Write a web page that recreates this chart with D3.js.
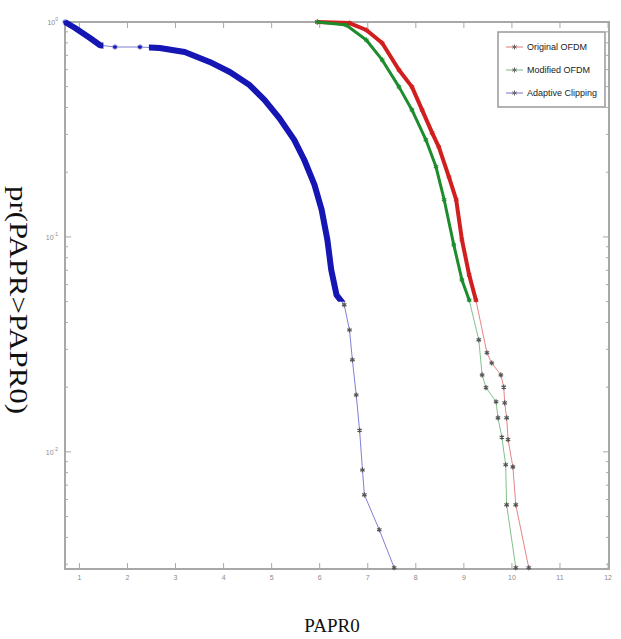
<!DOCTYPE html>
<html>
<head>
<meta charset="utf-8">
<script src="https://cdn.jsdelivr.net/npm/d3@7"></script>
<style>
  body { margin: 0; background: #fff; }
  svg { display: block; }
</style>
</head>
<body>
<div id="chart"></div>
<script>
// values
const xTickValues = [1, 2, 3, 4, 5, 6, 7, 8, 9, 10, 11, 12];
const yTickValues = [1, 0.1, 0.01];
const yTickLabels = ["0", "-1", "-2"];
const seriesNames = ["Original OFDM", "Modified OFDM", "Adaptive Clipping"];

const originalX = [5.95, 6.62, 6.97, 7.30, 7.65, 7.92, 8.13, 8.34, 8.48, 8.69, 8.84, 8.96, 9.11, 9.25, 9.48, 9.58, 9.77, 9.83, 9.85, 9.89, 9.92, 10.02, 10.08, 10.35];
const originalY = [1.0, 0.989, 0.918, 0.798, 0.598, 0.499, 0.390, 0.305, 0.262, 0.190, 0.149, 0.0969, 0.0666, 0.0509, 0.0289, 0.0259, 0.0228, 0.0200, 0.0169, 0.0144, 0.0114, 0.00851, 0.00567, 0.00289];

const modifiedX = [5.95, 6.55, 6.97, 7.30, 7.65, 7.92, 8.21, 8.42, 8.59, 8.79, 8.96, 9.11, 9.31, 9.38, 9.46, 9.67, 9.71, 9.79, 9.87, 9.89, 10.08];
const modifiedY = [1.0, 0.968, 0.825, 0.666, 0.499, 0.390, 0.283, 0.212, 0.149, 0.0918, 0.0631, 0.0509, 0.0332, 0.0228, 0.0199, 0.0171, 0.0144, 0.0117, 0.00871, 0.00567, 0.00289];

const clippingX = [0.70, 0.91, 1.22, 1.43, 1.74, 2.26, 2.67, 3.19, 3.71, 4.13, 4.54, 4.85, 5.16, 5.47, 5.68, 5.89, 6.04, 6.16, 6.24, 6.35, 6.51, 6.62, 6.68, 6.76, 6.83, 6.89, 6.93, 7.24, 7.55];
const clippingY = [1.0, 0.938, 0.843, 0.78, 0.765, 0.765, 0.757, 0.725, 0.652, 0.585, 0.509, 0.434, 0.357, 0.283, 0.228, 0.175, 0.134, 0.0969, 0.0703, 0.0537, 0.0483, 0.0369, 0.0268, 0.0184, 0.0126, 0.00824, 0.00631, 0.00434, 0.00289];

// thin (sparse) stretches of each curve, in x units
const sparseRanges = [[], [], [[1.5, 2.55]]];

const colors = ["#d11f1f", "#1c8c2c", "#1616b4"];
const thickWidths = [4, 3, 6];

const totalWidth = 621, totalHeight = 639;
const margin = {top: 22, right: 12, bottom: 70, left: 65};
const width = totalWidth - margin.left - margin.right;
const height = totalHeight - margin.top - margin.bottom;

const svg = d3.select("#chart").append("svg")
  .attr("width", totalWidth)
  .attr("height", totalHeight);

const g = svg.append("g")
  .attr("transform", `translate(${margin.left},${margin.top})`);

const x = d3.scaleLinear().domain([0.7, 12.02]).range([0, width]);
const y = d3.scaleLog().domain([Math.pow(10, -2.545), 1]).range([height, 0]);

const series = [
  {name: seriesNames[0], xs: originalX, ys: originalY},
  {name: seriesNames[1], xs: modifiedX, ys: modifiedY},
  {name: seriesNames[2], xs: clippingX, ys: clippingY}
].map((s, i) => ({
  name: s.name,
  color: colors[i],
  thick: thickWidths[i],
  gaps: sparseRanges[i],
  values: s.xs.map((v, j) => ({x: v, y: s.ys[j]}))
}));

// axis box + ticks (matlab style, ticks inside)
const axisColor = "#a8a8a8";
const minorTicks = [];
for (let e = -3; e < 0; e++) {
  for (let m = 2; m <= 9; m++) {
    const v = m * Math.pow(10, e);
    if (v >= y.domain()[0]) minorTicks.push(v);
  }
}

g.append("g")
  .attr("stroke", axisColor)
  .attr("stroke-width", 1)
  .call(g => g.selectAll(".xb").data(xTickValues).join("line")
    .attr("x1", d => x(d)).attr("x2", d => x(d))
    .attr("y1", height).attr("y2", height - 6))
  .call(g => g.selectAll(".xt").data(xTickValues).join("line")
    .attr("x1", d => x(d)).attr("x2", d => x(d))
    .attr("y1", 0).attr("y2", 6))
  .call(g => g.selectAll(".yl").data(yTickValues).join("line")
    .attr("x1", 0).attr("x2", 6)
    .attr("y1", d => y(d)).attr("y2", d => y(d)))
  .call(g => g.selectAll(".yr").data(yTickValues).join("line")
    .attr("x1", width).attr("x2", width - 6)
    .attr("y1", d => y(d)).attr("y2", d => y(d)))
  .call(g => g.selectAll(".ml").data(minorTicks).join("line")
    .attr("x1", 0).attr("x2", 3)
    .attr("y1", d => y(d)).attr("y2", d => y(d)))
  .call(g => g.selectAll(".mr").data(minorTicks).join("line")
    .attr("x1", width).attr("x2", width - 3)
    .attr("y1", d => y(d)).attr("y2", d => y(d)));

g.append("rect")
  .attr("width", width)
  .attr("height", height)
  .attr("fill", "none")
  .attr("stroke", axisColor)
  .attr("stroke-width", 2);

// tick labels
g.append("g")
  .attr("fill", "#8a8a8a")
  .attr("font-family", "Arial, 'Liberation Sans', sans-serif")
  .attr("font-size", 7)
  .attr("text-anchor", "middle")
  .selectAll("text")
  .data(xTickValues)
  .join("text")
    .attr("x", d => x(d))
    .attr("y", height + 11)
    .text(d => d);

const yLab = g.append("g")
  .attr("fill", "#8a8a8a")
  .attr("font-family", "Arial, 'Liberation Sans', sans-serif")
  .selectAll("text")
  .data(yTickValues)
  .join("text")
    .attr("x", -7)
    .attr("y", d => y(d) + 3)
    .attr("text-anchor", "end")
    .attr("font-size", 7);
yLab.append("tspan").text("10");
yLab.append("tspan").attr("dy", -4).attr("font-size", 5).text((d, i) => yTickLabels[i]);

// curves
const defs = g.append("defs");
series.forEach((s, i) => {
  // dense (thick) part: above 0.05, outside the sparse x stretches
  const edges = [x.domain()[0]];
  s.gaps.forEach(r => edges.push(r[0], r[1]));
  edges.push(x.domain()[1]);
  const cp = defs.append("clipPath").attr("id", "dense" + i);
  for (let k = 0; k < edges.length; k += 2) {
    cp.append("rect")
      .attr("x", x(edges[k]) - 5)
      .attr("y", -5)
      .attr("width", x(edges[k + 1]) - x(edges[k]) + 5)
      .attr("height", y(0.05) + 5);
  }
});

const line = d3.line().x(d => x(d.x)).y(d => y(d.y));
const star = d3.symbol().type(d3.symbolAsterisk).size(18);

series.forEach((s, i) => {
  g.append("path")
    .datum(s.values)
    .attr("fill", "none")
    .attr("stroke", s.color)
    .attr("stroke-opacity", 0.55)
    .attr("stroke-width", 1)
    .attr("d", line);

  g.append("path")
    .datum(s.values)
    .attr("fill", "none")
    .attr("stroke", s.color)
    .attr("stroke-width", s.thick)
    .attr("stroke-linejoin", "round")
    .attr("clip-path", `url(#dense${i})`)
    .attr("d", line);

  g.append("g")
    .selectAll("path")
    .data(s.values)
    .join("path")
      .attr("transform", d => `translate(${x(d.x)},${y(d.y)})`)
      .attr("d", star)
      .attr("fill", "none")
      .attr("stroke", d => d.y < 0.05 ? "#555" : s.color)
      .attr("stroke-width", 1.2);
});

// legend
const legend = g.append("g")
  .attr("transform", `translate(${width - 111},10)`);

legend.append("rect")
  .attr("width", 107)
  .attr("height", 75)
  .attr("fill", "#fff")
  .attr("stroke", "#999")
  .attr("stroke-width", 1.5);

const item = legend.selectAll(".item")
  .data(series)
  .join("g")
    .attr("transform", (d, i) => `translate(0,${15 + i * 23})`);

item.append("line")
  .attr("x1", 8).attr("x2", 25)
  .attr("stroke", d => d.color)
  .attr("stroke-opacity", 0.6);

item.append("path")
  .attr("transform", "translate(16.5,0)")
  .attr("d", star)
  .attr("fill", "none")
  .attr("stroke", "#666");

item.append("text")
  .attr("x", 29)
  .attr("y", 3)
  .attr("font-family", "'Liberation Sans Narrow', Arial, sans-serif")
  .attr("font-size", 9)
  .attr("fill", "#222")
  .text(d => d.name);

// axis titles
svg.append("text")
  .attr("x", margin.left + width / 2 - 5)
  .attr("y", 632)
  .attr("text-anchor", "middle")
  .attr("font-family", "'Liberation Serif', 'Times New Roman', serif")
  .attr("font-size", 19)
  .attr("fill", "#111")
  .text("PAPR0");

svg.append("text")
  .attr("transform", `translate(10,${margin.top + 278}) rotate(90)`)
  .attr("text-anchor", "middle")
  .attr("font-family", "'Liberation Serif', 'Times New Roman', serif")
  .attr("font-size", 26)
  .attr("textLength", 228)
  .attr("lengthAdjust", "spacingAndGlyphs")
  .attr("fill", "#111")
  .text("pr(PAPR>PAPR0)");
</script>
</body>
</html>
